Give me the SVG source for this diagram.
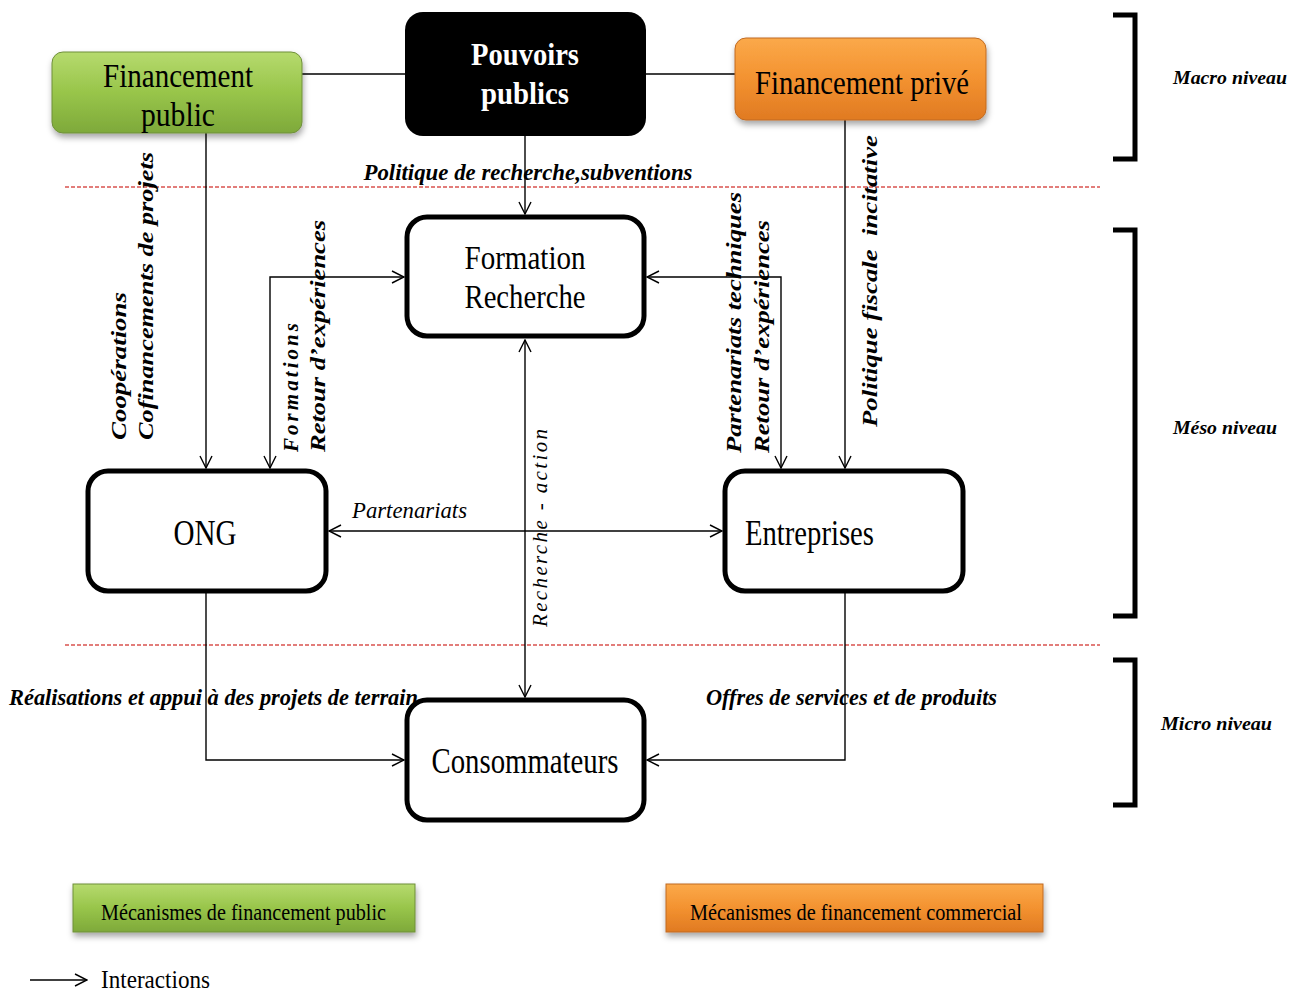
<svg xmlns="http://www.w3.org/2000/svg" width="1305" height="992" viewBox="0 0 1305 992">
<defs>
<linearGradient id="gGreen" x1="0" y1="0" x2="0" y2="1">
<stop offset="0" stop-color="#b6da6e"/><stop offset="0.5" stop-color="#98c54a"/><stop offset="1" stop-color="#7ea93a"/>
</linearGradient>
<linearGradient id="gOrange" x1="0" y1="0" x2="0" y2="1">
<stop offset="0" stop-color="#fba94a"/><stop offset="0.5" stop-color="#f39230"/><stop offset="1" stop-color="#e07a22"/>
</linearGradient>
<filter id="shadow" x="-10%" y="-10%" width="120%" height="140%">
<feDropShadow dx="1" dy="4" stdDeviation="3" flood-color="#000" flood-opacity="0.35"/>
</filter>
<marker id="arr" viewBox="0 0 14 14" refX="13" refY="7" markerWidth="14" markerHeight="14" markerUnits="userSpaceOnUse" orient="auto-start-reverse">
<path d="M1,1 L13,7 L1,13" fill="none" stroke="#000" stroke-width="1.4"/>
</marker>
</defs>
<style>
.t{font-family:"Liberation Serif","Times New Roman",serif;fill:#000}
.bi{font-family:"Liberation Serif","Times New Roman",serif;font-weight:bold;font-style:italic;fill:#000}
.it{font-family:"Liberation Serif","Times New Roman",serif;font-style:italic;fill:#000}
.box{fill:#fff;stroke:#000;stroke-width:5}
.ln{fill:none;stroke:#000;stroke-width:1.4}
.dash{stroke:#d9534f;stroke-width:1.3;stroke-dasharray:4 2}
.br{fill:none;stroke:#000;stroke-width:5}
</style>
<rect width="1305" height="992" fill="#fff"/>

<!-- level separators -->
<line class="dash" x1="65" y1="187" x2="1100" y2="187"/>
<line class="dash" x1="65" y1="645" x2="1100" y2="645"/>

<!-- brackets -->
<g id="levels">
<path class="br" d="M1113,15 L1135,15 L1135,159 L1113,159"/>
<path class="br" d="M1113,230 L1135,230 L1135,616 L1113,616"/>
<path class="br" d="M1113,660 L1135,660 L1135,805 L1113,805"/>
<text class="bi" x="1173" y="84" font-size="19" textLength="114" lengthAdjust="spacingAndGlyphs">Macro niveau</text>
<text class="bi" x="1173" y="434" font-size="19" textLength="104" lengthAdjust="spacingAndGlyphs">Méso niveau</text>
<text class="bi" x="1161" y="730" font-size="19" textLength="111" lengthAdjust="spacingAndGlyphs">Micro niveau</text>
</g>

<!-- connectors -->
<g id="connectors">
<line class="ln" x1="302" y1="74" x2="405" y2="74"/>
<line class="ln" x1="646" y1="74" x2="735" y2="74"/>
<line class="ln" x1="525" y1="136" x2="525" y2="214" marker-end="url(#arr)"/>
<line class="ln" x1="206" y1="133" x2="206" y2="468" marker-end="url(#arr)"/>
<polyline class="ln" points="270,468 270,277 404,277" marker-start="url(#arr)" marker-end="url(#arr)"/>
<polyline class="ln" points="647,277 781,277 781,468" marker-start="url(#arr)" marker-end="url(#arr)"/>
<line class="ln" x1="845" y1="120" x2="845" y2="468" marker-end="url(#arr)"/>
<line class="ln" x1="525" y1="340" x2="525" y2="697" marker-start="url(#arr)" marker-end="url(#arr)"/>
<line class="ln" x1="329" y1="531" x2="722" y2="531" marker-start="url(#arr)" marker-end="url(#arr)"/>
<polyline class="ln" points="206,592 206,760 404,760" marker-end="url(#arr)"/>
<polyline class="ln" points="845,592 845,760 647,760" marker-end="url(#arr)"/>
</g>

<!-- connector labels -->
<g id="labels">
<text class="bi" x="528" y="180" font-size="23" text-anchor="middle" textLength="329" lengthAdjust="spacingAndGlyphs">Politique de recherche,subventions</text>
<text class="bi" transform="translate(126,440) rotate(-90)" font-size="21" textLength="148" lengthAdjust="spacingAndGlyphs">Coopérations</text>
<text class="bi" transform="translate(153,440) rotate(-90)" font-size="21" textLength="288" lengthAdjust="spacingAndGlyphs">Cofinancements de projets</text>
<text class="bi" transform="translate(298,452) rotate(-90)" font-size="21" textLength="129" lengthAdjust="spacing">Formations</text>
<text class="bi" transform="translate(325,452) rotate(-90)" font-size="21" textLength="232" lengthAdjust="spacingAndGlyphs">Retour d’expériences</text>
<text class="bi" transform="translate(741,453) rotate(-90)" font-size="21" textLength="261" lengthAdjust="spacingAndGlyphs">Partenariats techniques</text>
<text class="bi" transform="translate(769,453) rotate(-90)" font-size="21" textLength="233" lengthAdjust="spacingAndGlyphs">Retour d’expériences</text>
<text class="bi" transform="translate(877,427) rotate(-90)" font-size="21" textLength="292" lengthAdjust="spacingAndGlyphs" xml:space="preserve">Politique fiscale  incitative</text>
<text class="it" transform="translate(547,627) rotate(-90)" font-size="21" textLength="198" lengthAdjust="spacing">Recherche - action</text>
<text class="it" x="352" y="518" font-size="24" textLength="115" lengthAdjust="spacingAndGlyphs">Partenariats</text>
<text class="bi" x="9" y="705" font-size="23" textLength="409" lengthAdjust="spacingAndGlyphs">Réalisations et appui à des projets de terrain</text>
<text class="bi" x="706" y="705" font-size="23" textLength="291" lengthAdjust="spacingAndGlyphs">Offres de services et de produits</text>
</g>

<!-- nodes -->
<g id="financement-public">
<rect x="52" y="52" width="250" height="81" rx="11" fill="url(#gGreen)" stroke="#6f8f3a" stroke-width="1" filter="url(#shadow)"/>
<text class="t" x="178" y="87" font-size="34" text-anchor="middle" textLength="150" lengthAdjust="spacingAndGlyphs">Financement</text>
<text class="t" x="178" y="126" font-size="34" text-anchor="middle" textLength="74" lengthAdjust="spacingAndGlyphs">public</text>
</g>
<g id="pouvoirs-publics">
<rect x="405" y="12" width="241" height="124" rx="18" fill="#000"/>
<text class="t" x="525" y="65" font-size="32" font-weight="bold" style="fill:#fff" text-anchor="middle" textLength="108" lengthAdjust="spacingAndGlyphs">Pouvoirs</text>
<text class="t" x="525" y="104" font-size="32" font-weight="bold" style="fill:#fff" text-anchor="middle" textLength="88" lengthAdjust="spacingAndGlyphs">publics</text>
</g>
<g id="financement-prive">
<rect x="735" y="38" width="251" height="82" rx="11" fill="url(#gOrange)" stroke="#c06a20" stroke-width="1" filter="url(#shadow)"/>
<text class="t" x="862" y="94" font-size="34" text-anchor="middle" textLength="214" lengthAdjust="spacingAndGlyphs">Financement privé</text>
</g>
<g id="formation-recherche">
<rect class="box" x="407" y="217" width="237" height="119" rx="20"/>
<text class="t" x="525" y="269" font-size="33" text-anchor="middle" textLength="121" lengthAdjust="spacingAndGlyphs">Formation</text>
<text class="t" x="525" y="308" font-size="33" text-anchor="middle" textLength="121" lengthAdjust="spacingAndGlyphs">Recherche</text>
</g>
<g id="ong">
<rect class="box" x="88" y="471" width="238" height="120" rx="20"/>
<text class="t" x="205" y="545" font-size="35" text-anchor="middle" textLength="63" lengthAdjust="spacingAndGlyphs">ONG</text>
</g>
<g id="entreprises">
<rect class="box" x="725" y="471" width="238" height="120" rx="20"/>
<text class="t" x="745" y="545" font-size="35" textLength="129" lengthAdjust="spacingAndGlyphs">Entreprises</text>
</g>
<g id="consommateurs">
<rect class="box" x="407" y="700" width="237" height="120" rx="20"/>
<text class="t" x="525" y="773" font-size="35" text-anchor="middle" textLength="187" lengthAdjust="spacingAndGlyphs">Consommateurs</text>
</g>

<!-- legend -->
<g id="legend-public">
<rect x="73" y="884" width="342" height="48" fill="url(#gGreen)" stroke="#6f8f3a" stroke-width="1" filter="url(#shadow)"/>
<text class="t" x="101" y="920" font-size="24" textLength="285" lengthAdjust="spacingAndGlyphs">Mécanismes de financement public</text>
</g>
<g id="legend-commercial">
<rect x="666" y="884" width="377" height="48" fill="url(#gOrange)" stroke="#c06a20" stroke-width="1" filter="url(#shadow)"/>
<text class="t" x="690" y="920" font-size="24" textLength="332" lengthAdjust="spacingAndGlyphs">Mécanismes de financement commercial</text>
</g>
<g id="legend-interactions">
<line class="ln" x1="30" y1="980" x2="87" y2="980" marker-end="url(#arr)"/>
<text class="t" x="101" y="988" font-size="26" textLength="109" lengthAdjust="spacingAndGlyphs">Interactions</text>
</g>
</svg>
